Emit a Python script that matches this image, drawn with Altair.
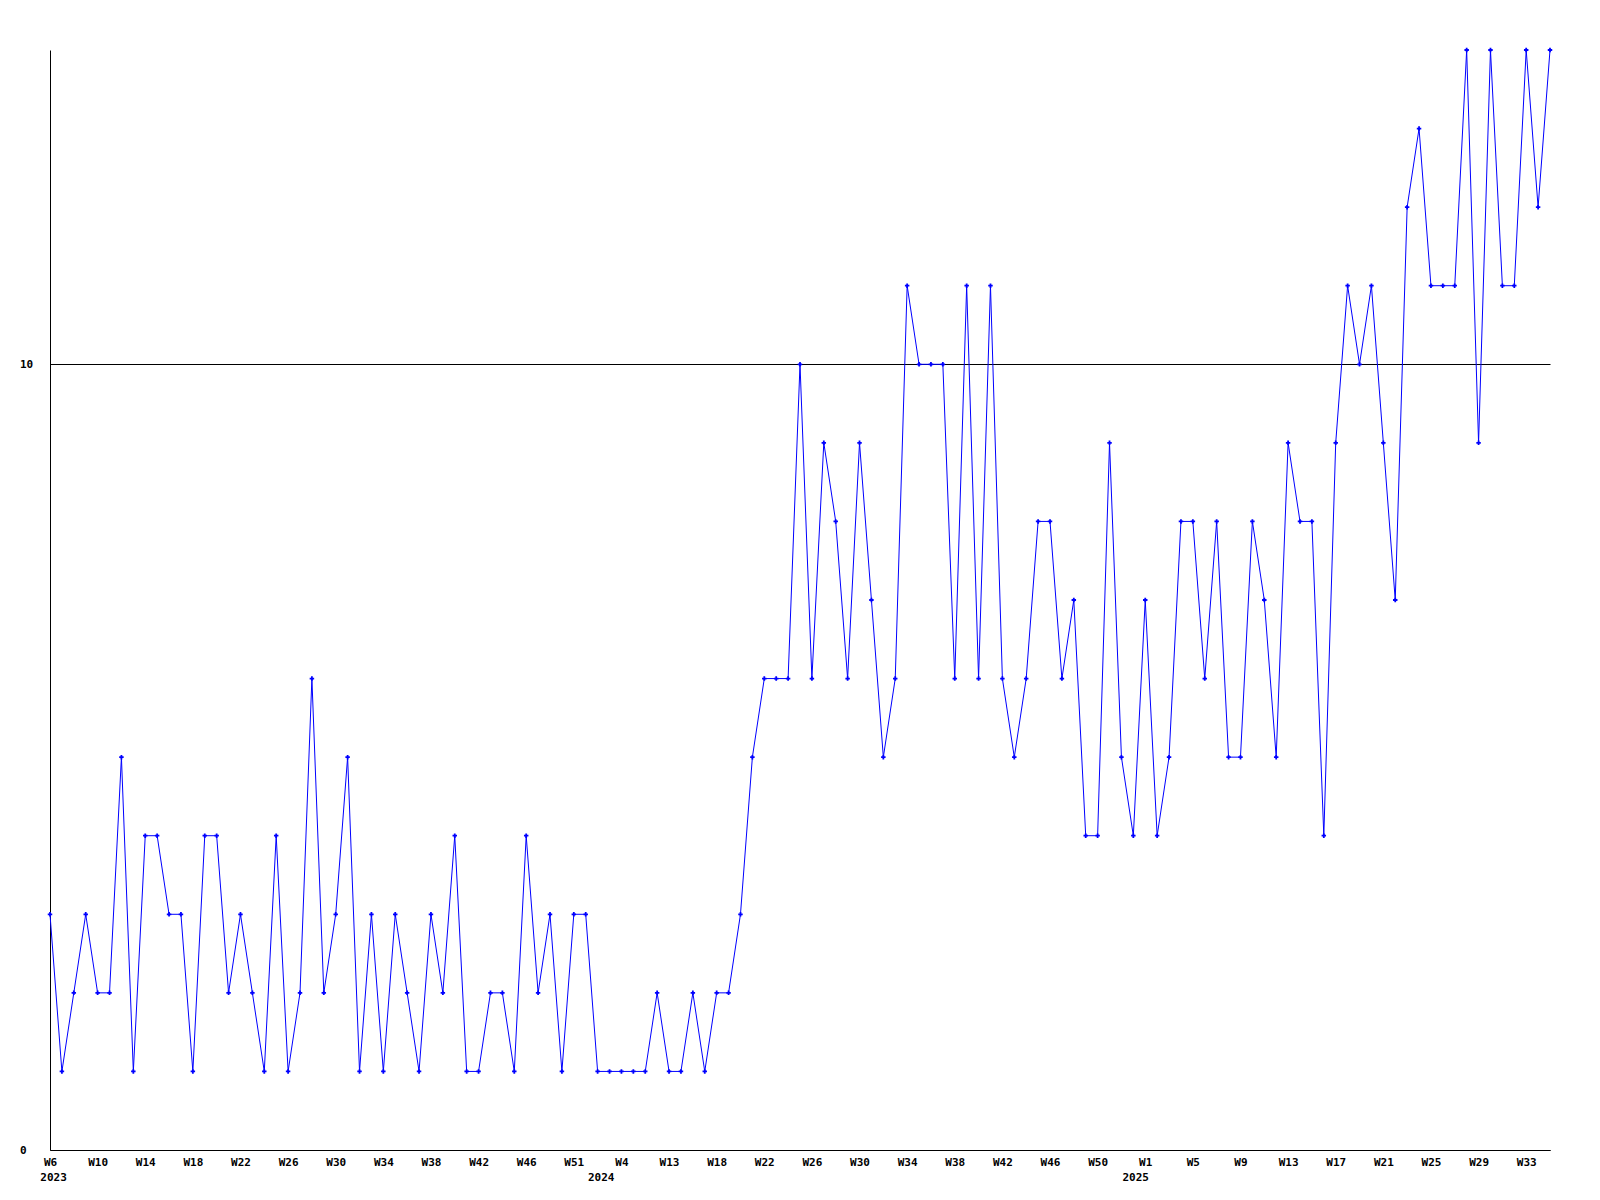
import json
import altair as alt
import pandas as pd

# weekly values, one per sample (2023 W6 ... 2025 W35)
values = [3, 1, 2, 3, 2, 2, 5, 1, 4, 4,
          3, 3, 1, 4, 4, 2, 3, 2, 1, 4,
          1, 2, 6, 2, 3, 5, 1, 3, 1, 3,
          2, 1, 3, 2, 4, 1, 1, 2, 2, 1,
          4, 2, 3, 1, 3, 3, 1, 1, 1, 1,
          1, 2, 1, 1, 2, 1, 2, 2, 3, 5,
          6, 6, 6, 10, 6, 9, 8, 6, 9, 7,
          5, 6, 11, 10, 10, 10, 6, 11, 6, 11,
          6, 5, 6, 8, 8, 6, 7, 4, 4, 9,
          5, 4, 7, 4, 5, 8, 8, 6, 8, 5,
          5, 8, 7, 5, 9, 8, 8, 4, 9, 11,
          10, 11, 9, 7, 12, 13, 11, 11, 11, 14,
          9, 14, 11, 11, 14, 12, 14]

# tick labels, one for every 4th sample
tick_labels = ["W6", "W10", "W14", "W18", "W22", "W26", "W30", "W34", "W38",
               "W42", "W46", "W51", "W4", "W13", "W18", "W22", "W26", "W30",
               "W34", "W38", "W42", "W46", "W50", "W1", "W5", "W9", "W13",
               "W17", "W21", "W25", "W29", "W33"]
tick_step = 4

# year labels and the sample index where each year begins
years = ["2023", "2024", "2025"]
year_index = [0.3, 46.3, 91.2]

df = pd.DataFrame({"idx": list(range(len(values))), "value": values})
ydf = pd.DataFrame({"pos": year_index, "year": years})

FONT = "DejaVu Sans Mono"
BLUE = "#0000ff"

xscale = alt.Scale(domain=[0, len(values) - 1], nice=False, zero=False)
yscale = alt.Scale(domain=[0, 14], nice=False, zero=True)

label_expr = json.dumps(tick_labels) + "[round(datum.value / %d)]" % tick_step

xaxis = alt.Axis(values=list(range(0, len(tick_labels) * tick_step, tick_step)),
                 labelExpr=label_expr, grid=False, ticks=False, tickSize=0,
                 labelPadding=6, domainColor="black", domainWidth=1,
                 labelFont=FONT, labelFontSize=11, labelFontWeight="bold",
                 labelColor="black", labelFlush=False, labelOverlap=False,
                 labelBound=False, title=None)
yaxis = alt.Axis(values=[0, 10], format="d", grid=True, gridColor="black",
                 gridOpacity=1, gridWidth=1, ticks=False, tickSize=0,
                 labelAlign="left", labelPadding=30.5, domainColor="black",
                 domainWidth=1, labelFont=FONT, labelFontSize=11,
                 labelFontWeight="bold", labelColor="black", title=None)

base = alt.Chart(df)
line = base.mark_line(color=BLUE, strokeWidth=1).encode(
    x=alt.X("idx:Q", scale=xscale, axis=xaxis),
    y=alt.Y("value:Q", scale=yscale, axis=yaxis),
)
pts = base.mark_point(shape="cross", filled=True, size=20, color=BLUE, opacity=1).encode(
    x=alt.X("idx:Q", scale=xscale),
    y=alt.Y("value:Q", scale=yscale),
)
yr = alt.Chart(ydf).mark_text(font=FONT, fontSize=11, fontWeight="bold",
                              color="black", align="center",
                              baseline="alphabetic").encode(
    x=alt.X("pos:Q", scale=xscale),
    y=alt.value(1131),
    text="year:N",
)

chart = alt.layer(line, pts, yr).properties(
    width=1500, height=1100,
    autosize="none",
    padding={"left": 42, "top": 42, "right": 42, "bottom": 42},
    background="white",
).configure_view(strokeWidth=0)

chart.save("out.html", embed_options={"renderer": "svg", "actions": False})
